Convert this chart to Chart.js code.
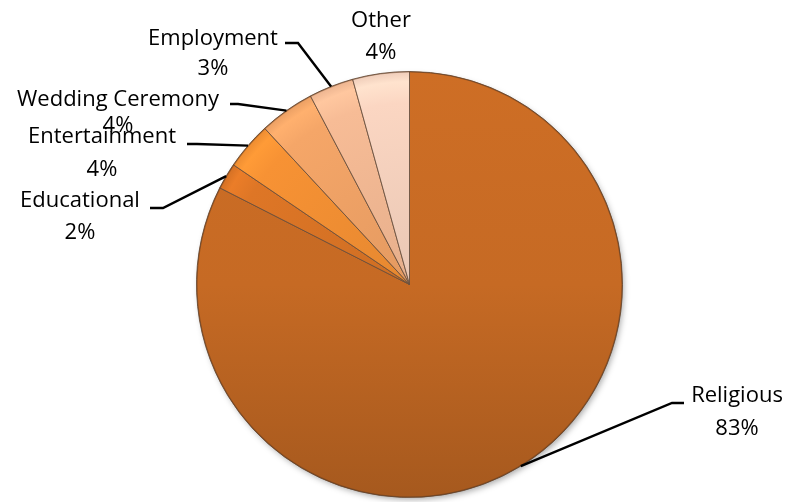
<!DOCTYPE html>
<html>
<head>
<meta charset="utf-8">
<script src="https://cdn.jsdelivr.net/npm/chart.js@4.4.1/dist/chart.umd.min.js"></script>
<style>
  html, body { margin: 0; padding: 0; background: #fff; }
  #wrap { width: 790px; height: 502px; }
</style>
</head>
<body>
<div id="wrap"><canvas id="pie" width="790" height="502"></canvas></div>
<script>
// slices go clockwise from 12 o'clock
var categories = ["Religious", "Educational", "Entertainment", "Wedding Ceremony", "Employment", "Other"];
var shares = [82.5, 2.0, 3.6, 4.2, 3.4, 4.3];
var sliceColors = ["rgb(198,106,36)", "rgb(222,118,38)", "rgb(247,146,52)", "rgb(245,166,104)", "rgb(247,188,150)", "rgb(251,214,194)"];

// label block: centre x, baseline of first and second line, leader stub [x, y, elbowX]
var labelPos = [
    {x: 737, y1: 402, y2: 435, stub: [684, 403, 672]},
    {x: 80,  y1: 207, y2: 239, stub: [150, 208, 163]},
    {x: 102, y1: 143, y2: 176, stub: [187, 144, 197]},
    {x: 118, y1: 106, y2: 132, stub: [230, 104, 238]},
    {x: 213, y1: 45,  y2: 75,  stub: [285, 43, 298]},
    {x: 381, y1: 27,  y2: 59,  stub: null}
];

function shade(col, f) {
    var m = col.match(/\d+/g);
    var r = Math.round(Math.min(255, m[0] * f));
    var g = Math.round(Math.min(255, m[1] * f));
    var b = Math.round(Math.min(255, m[2] * f));
    return "rgb(" + r + "," + g + "," + b + ")";
}

function sliceFill(context) {
    var chart = context.chart;
    var area = chart.chartArea;
    if (!area) return sliceColors[context.dataIndex];
    var ctx = chart.ctx;
    var base = sliceColors[context.dataIndex];
    var cx = (area.left + area.right) / 2;
    var cy = (area.top + area.bottom) / 2;
    var r = Math.min(area.right - area.left, area.bottom - area.top) / 2;
    if (context.dataIndex == 0) {
        var lg = ctx.createLinearGradient(0, area.top, 0, area.bottom);
        lg.addColorStop(0, shade(base, 1.04));
        lg.addColorStop(0.5, base);
        lg.addColorStop(1, shade(base, 0.84));
        return lg;
    }
    var g = ctx.createRadialGradient(cx, cy, 0, cx, cy, r);
    g.addColorStop(0, shade(base, 0.93));
    g.addColorStop(0.85, base);
    g.addColorStop(0.95, shade(base, 1.06));
    g.addColorStop(1, shade(base, 0.95));
    return g;
}

var calloutPlugin = {
    id: "callouts",
    beforeDatasetsDraw: function(chart) {
        // soft drop shadow under the pie
        var a0 = chart.getDatasetMeta(0).data[0];
        if (!a0) return;
        var ctx = chart.ctx;
        ctx.save();
        ctx.shadowColor = "rgba(0,0,0,0.35)";
        ctx.shadowBlur = 6;
        ctx.shadowOffsetX = 2;
        ctx.shadowOffsetY = 3;
        ctx.beginPath();
        ctx.arc(a0.x, a0.y, a0.outerRadius - 1, 0, Math.PI * 2);
        ctx.fillStyle = "rgb(170,90,30)";
        ctx.fill();
        ctx.restore();
    },
    afterDatasetsDraw: function(chart) {
        var ctx = chart.ctx;
        var meta = chart.getDatasetMeta(0);
        var total = shares.reduce(function(a, b) { return a + b; }, 0);
        ctx.save();
        var a0 = meta.data[0];
        ctx.beginPath();
        ctx.arc(a0.x, a0.y, a0.outerRadius - 0.5, 0, Math.PI * 2);
        ctx.strokeStyle = "rgba(90,50,20,0.4)";
        ctx.lineWidth = 1.2;
        ctx.stroke();

        for (var i = 0; i < categories.length; i++) {
            var arc = meta.data[i];
            var p = labelPos[i];
            if (p.stub) {
                var mid = (arc.startAngle + arc.endAngle) / 2;
                var ex = arc.x + Math.cos(mid) * arc.outerRadius;
                var ey = arc.y + Math.sin(mid) * arc.outerRadius;
                ctx.beginPath();
                ctx.moveTo(p.stub[0], p.stub[1]);
                ctx.lineTo(p.stub[2], p.stub[1]);
                ctx.lineTo(ex, ey);
                ctx.strokeStyle = "#000";
                ctx.lineWidth = 2.4;
                ctx.stroke();
            }
            ctx.fillStyle = "#000";
            ctx.font = "22px 'Open Sans'";
            ctx.textAlign = "center";
            ctx.textBaseline = "alphabetic";
            ctx.fillText(categories[i], p.x, p.y1);
            ctx.fillText(Math.round(shares[i] / total * 100) + "%", p.x, p.y2);
        }
        ctx.restore();
    }
};

var chart = new Chart(document.getElementById("pie"), {
    type: "pie",
    data: {
        labels: categories,
        datasets: [{
            data: shares,
            backgroundColor: sliceFill,
            borderColor: "rgba(105,80,62,0.85)",
            borderWidth: 1
        }]
    },
    options: {
        responsive: false,
        animation: false,
        layout: { padding: { left: 196, right: 167, top: 71, bottom: 4 } },
        plugins: {
            legend: { display: false },
            tooltip: { enabled: false }
        }
    },
    plugins: [calloutPlugin]
});
</script>
</body>
</html>
